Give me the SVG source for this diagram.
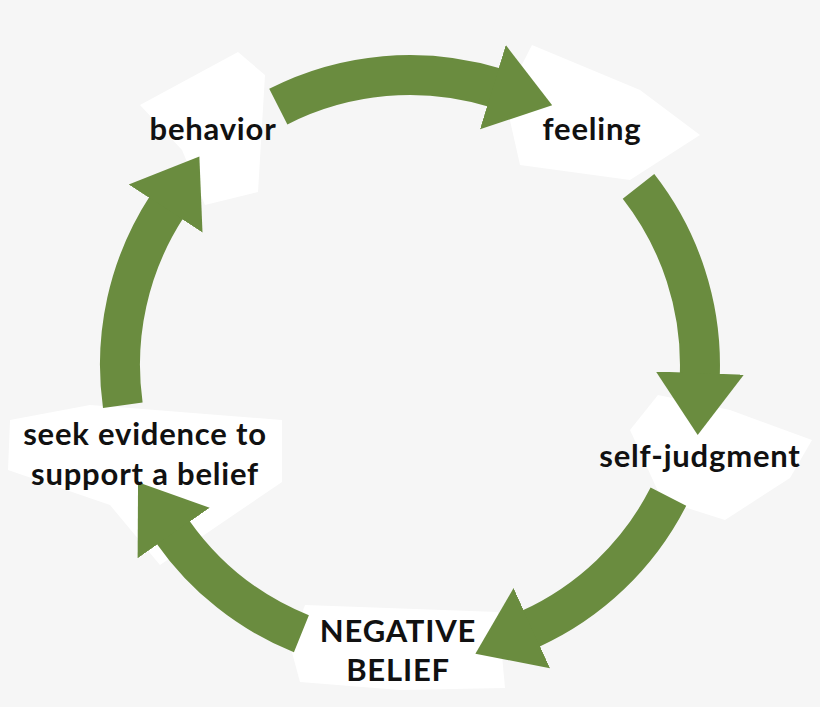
<svg xmlns="http://www.w3.org/2000/svg" width="820" height="707" viewBox="0 0 820 707">
<style>
.arc{fill:none;stroke:#6a8c3f;stroke-width:40}
.lbl{fill:#fff}
text{font-family:Lato,"Open Sans","Liberation Sans",sans-serif;font-weight:bold;font-size:31px;letter-spacing:0.8px;fill:#111;text-anchor:middle}
</style>
<defs>
<marker id="ah" markerUnits="userSpaceOnUse" markerWidth="70" markerHeight="100" refX="2" refY="50" orient="auto">
<polygon points="0,6 62,50 0,94" fill="#6a8c3f"/>
</marker>
</defs>
<rect width="820" height="707" fill="#f6f6f6"/>
<g id="shapes">
<polygon class="lbl" points="140,105 238,52 265,75 258,192 205,205 182,150"/>
<polygon class="lbl" points="505,98 532,45 640,90 700,135 630,180 520,165"/>
<polygon class="lbl" points="630,430 658,395 730,410 812,440 790,478 725,520 662,500"/>
<polygon class="lbl" points="290,645 305,605 498,612 505,688 400,690 300,682"/>
<polygon class="lbl" points="90,405 130,408 282,420 282,482 160,565 110,505 8,470 10,420"/>
</g>
<g id="connectors">
<path class="arc" marker-end="url(#ah)" d="M278.3,106.6 A290,290 0 0 1 494.8,87.7"/>
<path class="arc" marker-end="url(#ah)" d="M638.5,186.4 A290,290 0 0 1 699.8,375.1"/>
<path class="arc" marker-end="url(#ah)" d="M668.4,496.7 A290,290 0 0 1 530,629"/>
<path class="arc" marker-end="url(#ah)" d="M301.4,633.8 A290,290 0 0 1 172.5,531.4"/>
<path class="arc" marker-end="url(#ah)" d="M122.8,405.3 A290,290 0 0 1 166.7,206.9"/>
</g>
<g id="behavior"><text x="213" y="140">behavior</text></g>
<g id="feeling"><text x="592" y="140">feeling</text></g>
<g id="self-judgment"><text x="700" y="467">self-judgment</text></g>
<g id="negative-belief"><text x="398" y="642">NEGATIVE</text><text x="398" y="681">BELIEF</text></g>
<g id="seek-evidence"><text x="145" y="445">seek evidence to</text><text x="145" y="485">support a belief</text></g>
</svg>
